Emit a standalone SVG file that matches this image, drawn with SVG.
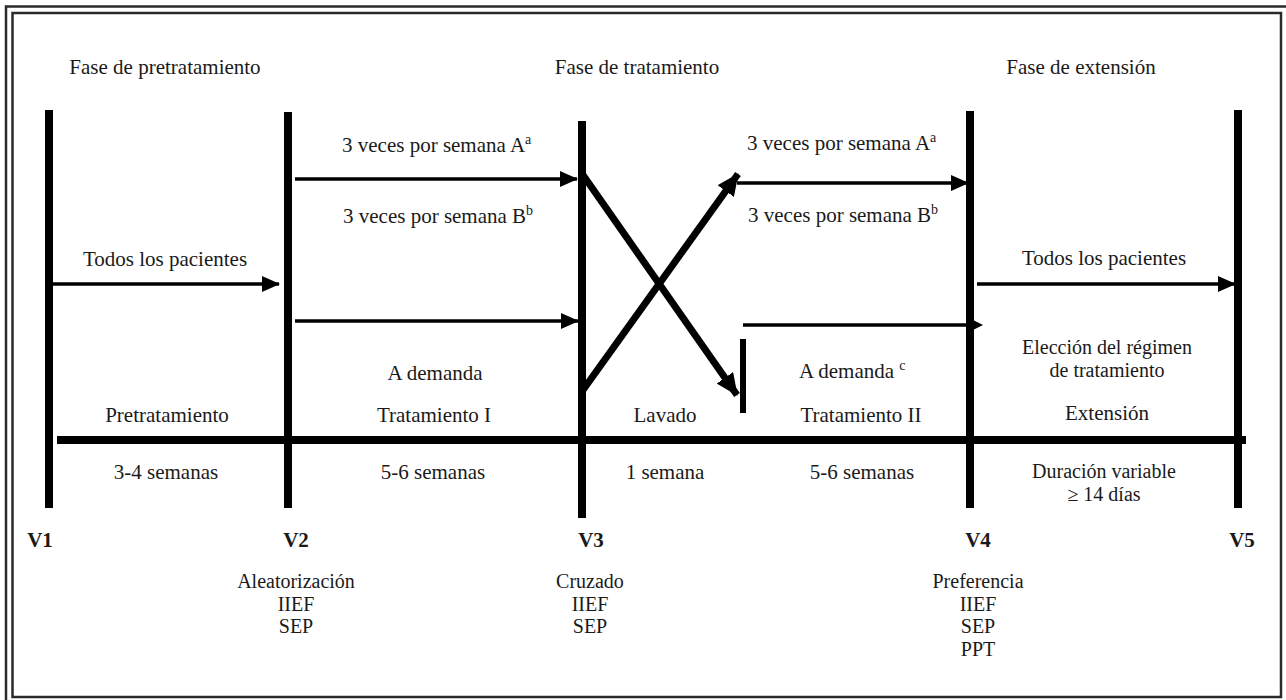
<svg xmlns="http://www.w3.org/2000/svg" width="1286" height="700" viewBox="0 0 1286 700">
<defs>
<style>
text{font-family:"Liberation Serif","Times New Roman",serif;font-size:21px;fill:#1a1a1a}
.c{text-anchor:middle}
.b{font-weight:bold}
.s{font-size:20px}
.sup{font-size:14px}
.v{stroke:#000;stroke-width:8;fill:none}
.h{stroke:#000;stroke-width:3.5;fill:none}
.d{stroke:#000;stroke-width:7;fill:none}
.frame{fill:none;stroke:#2a2a2a;stroke-width:2.5}
</style>
<marker id="ah" markerUnits="userSpaceOnUse" markerWidth="18" markerHeight="16" refX="17" refY="8" orient="auto">
<path d="M0,0 L18,8 L0,16 Z" fill="#000"/>
</marker>
<marker id="ahd" markerUnits="userSpaceOnUse" markerWidth="22" markerHeight="20" refX="21" refY="10" orient="auto">
<path d="M0,0 L22,10 L0,20 Z" fill="#000"/>
</marker>
</defs>
<rect width="1286" height="700" fill="#fff"/>
<g id="frame">
<rect class="frame" x="6" y="6.5" width="1300" height="720"/>
<rect class="frame" x="12.5" y="13" width="1268.5" height="684"/>
</g>
<g id="phase-labels">
<text class="c" x="165" y="74">Fase de pretratamiento</text>
<text class="c" x="637" y="74">Fase de tratamiento</text>
<text class="c" x="1081" y="74">Fase de extensión</text>
</g>
<g id="connectors">
<line class="h" x1="53" y1="284" x2="279" y2="284" marker-end="url(#ah)"/>
<line class="h" x1="295" y1="179" x2="577" y2="179" marker-end="url(#ah)"/>
<line class="h" x1="295" y1="321" x2="578" y2="321" marker-end="url(#ah)"/>
<line class="d" x1="583" y1="390" x2="738" y2="174" marker-end="url(#ahd)"/>
<line class="d" x1="583" y1="175" x2="737" y2="395" marker-end="url(#ahd)"/>
<line class="h" x1="737" y1="183" x2="968" y2="183" marker-end="url(#ah)"/>
<line class="h" x1="743" y1="325" x2="976" y2="325"/>
<path d="M973,320 L983,325 L973,330 Z" fill="#000"/>
<line class="h" x1="977" y1="284" x2="1235" y2="284" marker-end="url(#ah)"/>
<line x1="743" y1="339" x2="743" y2="413" stroke="#000" stroke-width="6"/>
</g>
<g id="timeline">
<line x1="57" y1="440" x2="1246" y2="440" stroke="#000" stroke-width="8"/>
</g>
<g id="V1">
<line class="v" x1="49" y1="110" x2="49" y2="508"/>
<text class="c b" x="40" y="547">V1</text>
</g>
<g id="V2">
<line class="v" x1="288" y1="112" x2="288" y2="508"/>
<text class="c b" x="296" y="547">V2</text>
<text class="c s" x="296" y="588">Aleatorización</text>
<text class="c s" x="296" y="610.5">IIEF</text>
<text class="c s" x="296" y="633">SEP</text>
</g>
<g id="V3">
<line class="v" x1="582" y1="121" x2="582" y2="518"/>
<text class="c b" x="591" y="547">V3</text>
<text class="c s" x="590" y="588">Cruzado</text>
<text class="c s" x="590" y="610.5">IIEF</text>
<text class="c s" x="590" y="633">SEP</text>
</g>
<g id="V4">
<line class="v" x1="970" y1="111" x2="970" y2="508"/>
<text class="c b" x="978" y="547">V4</text>
<text class="c s" x="978" y="588">Preferencia</text>
<text class="c s" x="978" y="610.5">IIEF</text>
<text class="c s" x="978" y="633">SEP</text>
<text class="c s" x="978" y="655.5">PPT</text>
</g>
<g id="V5">
<line class="v" x1="1238" y1="110" x2="1238" y2="508"/>
<text class="c b" x="1242" y="547">V5</text>
</g>
<g id="arrow-labels">
<text x="165" y="266" class="c">Todos los pacientes</text>
<text x="342" y="152">3 veces por semana A<tspan class="sup" dy="-8">a</tspan></text>
<text x="343" y="223">3 veces por semana B<tspan class="sup" dy="-8">b</tspan></text>
<text x="747" y="150">3 veces por semana A<tspan class="sup" dy="-8">a</tspan></text>
<text x="748" y="222">3 veces por semana B<tspan class="sup" dy="-8">b</tspan></text>
<text x="1104" y="265" class="c">Todos los pacientes</text>
<text x="435" y="380" class="c">A demanda</text>
<text x="799" y="378">A demanda <tspan class="sup" dy="-8">c</tspan></text>
<text x="1107" y="354" class="c s">Elección del régimen</text>
<text x="1107" y="377" class="c s">de tratamiento</text>
</g>
<g id="period-labels">
<text class="c" x="167" y="422">Pretratamiento</text>
<text class="c" x="434" y="422">Tratamiento I</text>
<text class="c" x="665" y="422">Lavado</text>
<text class="c" x="861" y="422">Tratamiento II</text>
<text class="c" x="1107" y="420">Extensión</text>
<text class="c" x="166" y="479">3-4 semanas</text>
<text class="c" x="433" y="479">5-6 semanas</text>
<text class="c" x="665" y="479">1 semana</text>
<text class="c" x="862" y="479">5-6 semanas</text>
<text class="c s" x="1104" y="478">Duración variable</text>
<text class="c s" x="1104" y="501">≥ 14 días</text>
</g>
</svg>
